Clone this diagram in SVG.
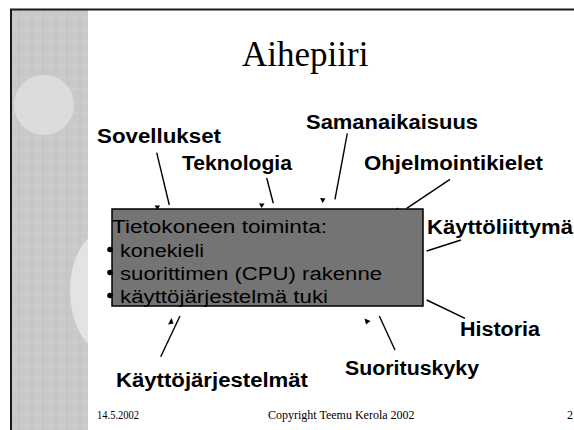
<svg xmlns="http://www.w3.org/2000/svg" width="574" height="430" viewBox="0 0 574 430">
  <style>
    .lbl { font-family: "Liberation Sans", Arial, sans-serif; font-weight: bold; font-size: 20px; fill: #000; }
    .box-text { font-family: "Liberation Sans", Arial, sans-serif; font-size: 18px; fill: #000; }
    .foot { font-family: "Liberation Serif", "Times New Roman", serif; font-size: 12px; fill: #000; }
    .conn line { stroke: #000; stroke-width: 1.4; }
    .conn polygon { fill: #000; }
  </style>
  <defs>
    <pattern id="tex" width="24" height="24" patternUnits="userSpaceOnUse">
      <rect width="24" height="24" fill="#c9c9c9"/>
      <path d="M0 6 H24 M0 17 H24" stroke="#d2d2d2" stroke-width="1"/>
      <path d="M8 0 V24 M19 0 V24" stroke="#c2c2c2" stroke-width="1"/>
    </pattern>
    <clipPath id="stripClip"><rect x="12" y="10" width="76" height="420"/></clipPath>
  </defs>

  <rect width="574" height="430" fill="#ffffff"/>
  <g id="background">
    <rect x="12" y="10" width="76" height="420" fill="url(#tex)"/>
    <circle cx="44" cy="105" r="30" fill="#dcdcdc"/>
    <ellipse cx="105" cy="291" rx="35" ry="60" fill="#e3e3e3" clip-path="url(#stripClip)"/>
    <line x1="10" y1="9.5" x2="574" y2="9.5" stroke="#1a1a1a" stroke-width="2"/>
    <line x1="11" y1="9" x2="11" y2="430" stroke="#1a1a1a" stroke-width="2"/>
  </g>

  <g id="title">
    <text x="242" y="66" font-family="'Liberation Serif', 'Times New Roman', serif" font-size="35" fill="#000">Aihepiiri</text>
  </g>

  <g id="connectors" class="conn">
    <line x1="156.7" y1="152.7" x2="169.3" y2="205"/>
    <polygon points="154.5,205.5 160,205.5 157.5,210"/>
    <line x1="266.7" y1="178" x2="273.3" y2="203.3"/>
    <polygon points="259,203.5 264.5,203.5 261.7,208"/>
    <line x1="347.3" y1="133.3" x2="335" y2="199.3"/>
    <polygon points="320,198 325.5,198.5 322.7,203"/>
    <line x1="450" y1="179.3" x2="406.7" y2="208.3"/>
    <polygon points="394,212 397.5,207.5 400.5,211"/>
    <line x1="461" y1="240" x2="426.7" y2="251"/>
    <polygon points="413,257.5 420,253.5 420,258"/>
    <line x1="426.7" y1="300" x2="465" y2="318.3"/>
    <polygon points="413,300 421,300 417,305"/>
    <line x1="180" y1="316" x2="160.7" y2="356.7"/>
    <polygon points="171.5,318 168,324.5 173.5,323.5"/>
    <line x1="379.3" y1="316" x2="395" y2="350"/>
    <polygon points="364.5,318.5 370.5,321 366,324.5"/>
  </g>

  <g id="main-box">
    <rect x="112" y="209" width="311" height="97" fill="#747474" stroke="#000" stroke-width="1.5"/>
    <text class="box-text" x="112" y="233" textLength="215" lengthAdjust="spacingAndGlyphs">Tietokoneen toiminta:</text>
    <circle cx="110" cy="249.5" r="2.8" fill="#000"/>
    <text class="box-text" x="120" y="257" textLength="84" lengthAdjust="spacingAndGlyphs">konekieli</text>
    <circle cx="110" cy="272.5" r="2.8" fill="#000"/>
    <text class="box-text" x="120" y="280" textLength="262" lengthAdjust="spacingAndGlyphs">suorittimen (CPU) rakenne</text>
    <circle cx="110" cy="295.5" r="2.8" fill="#000"/>
    <text class="box-text" x="120" y="303" textLength="208" lengthAdjust="spacingAndGlyphs">käyttöjärjestelmä tuki</text>
  </g>

  <g id="label-sovellukset"><text class="lbl" x="97" y="143" textLength="124" lengthAdjust="spacingAndGlyphs">Sovellukset</text></g>
  <g id="label-teknologia"><text class="lbl" x="182" y="170" textLength="110" lengthAdjust="spacingAndGlyphs">Teknologia</text></g>
  <g id="label-samanaikaisuus"><text class="lbl" x="306" y="129" textLength="172" lengthAdjust="spacingAndGlyphs">Samanaikaisuus</text></g>
  <g id="label-ohjelmointikielet"><text class="lbl" x="364" y="170" textLength="179" lengthAdjust="spacingAndGlyphs">Ohjelmointikielet</text></g>
  <g id="label-kayttoliittyma"><text class="lbl" x="427" y="234" textLength="146" lengthAdjust="spacingAndGlyphs">Käyttöliittymä</text></g>
  <g id="label-historia"><text class="lbl" x="460" y="336" textLength="80" lengthAdjust="spacingAndGlyphs">Historia</text></g>
  <g id="label-suorituskyky"><text class="lbl" x="345" y="375" textLength="134" lengthAdjust="spacingAndGlyphs">Suorituskyky</text></g>
  <g id="label-kayttojarjestelmat"><text class="lbl" x="116" y="387" textLength="192" lengthAdjust="spacingAndGlyphs">Käyttöjärjestelmät</text></g>

  <g id="footer">
    <text class="foot" x="97" y="419" textLength="42" lengthAdjust="spacingAndGlyphs">14.5.2002</text>
    <text class="foot" x="268" y="419">Copyright Teemu Kerola 2002</text>
    <text class="foot" x="567" y="419">2</text>
  </g>
</svg>
